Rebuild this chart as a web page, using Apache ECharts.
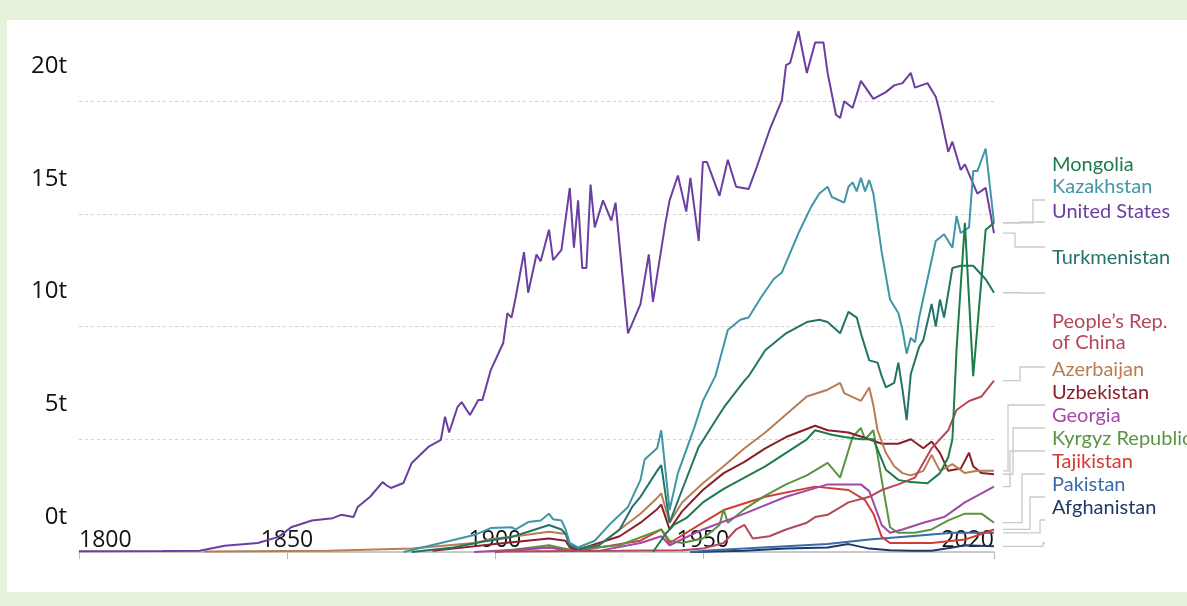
<!DOCTYPE html>
<html>
<head>
<meta charset="utf-8">
<title>Emissions per capita</title>
<script src="https://cdn.jsdelivr.net/npm/echarts@6/dist/echarts.min.js"></script>
<style>
  html, body { margin: 0; padding: 0; background: #e7f2dc; }
  #panel { position: absolute; left: 7px; top: 20px; width: 1180px; height: 572px; background: #fff; }
  #chart { position: absolute; left: 0; top: 0; width: 1187px; height: 606px; }
</style>
</head>
<body>
<div id="panel"></div>
<div id="chart"></div>
<script>
// values, [year, tonnes]
const tickYears = [1800, 1850, 1900, 1950, 2020];

const unitedStates = [[1800,0.03],[1820,0.04],[1829,0.06],[1835,0.28],[1843,0.4],[1848,0.67],[1851,1.1],[1856,1.4],[1861,1.5],[1863,1.65],[1866,1.55],[1867,2.0],[1870,2.45],[1873,3.1],[1874,2.95],[1875,2.84],[1878,3.06],[1880,3.95],[1884,4.66],[1887,4.97],[1888,6.0],[1889,5.3],[1891,6.43],[1892,6.65],[1894,6.08],[1896,6.74],[1897,6.74],[1899,8.07],[1902,9.27],[1903,10.6],[1904,10.4],[1905,11.3],[1907,13.3],[1908,11.5],[1910,13.2],[1911,12.9],[1913,14.3],[1914,12.95],[1916,13.4],[1918,16.15],[1919,13.5],[1920,15.6],[1921,12.6],[1922,12.6],[1923,16.3],[1924,14.4],[1926,15.6],[1928,14.7],[1929,15.5],[1932,9.7],[1935,11.0],[1937,13.2],[1938,11.1],[1941,14.6],[1942,15.6],[1944,16.7],[1946,15.1],[1947,16.6],[1949,13.8],[1950,17.3],[1951,17.3],[1952,16.8],[1954,15.8],[1956,17.4],[1958,16.2],[1961,16.1],[1963,17.1],[1966,18.7],[1969,20.05],[1970,21.6],[1971,21.7],[1973,23.1],[1975,21.25],[1977,22.6],[1979,22.6],[1980,21.25],[1982,19.4],[1983,19.25],[1984,20.0],[1986,19.7],[1988,20.9],[1991,20.1],[1994,20.4],[1996,20.7],[1998,20.8],[2000,21.25],[2001,20.6],[2004,20.8],[2006,20.2],[2007,19.5],[2009,17.75],[2010,18.2],[2012,16.95],[2013,17.2],[2016,15.9],[2018,16.15],[2020,14.15]];

const kazakhstan = [[1878,0],[1887,0.4],[1895,0.75],[1899,1.06],[1904,1.1],[1905,1.0],[1908,1.33],[1911,1.4],[1913,1.7],[1914,1.45],[1916,1.4],[1917,1.0],[1918,0.4],[1920,0.2],[1924,0.5],[1928,1.3],[1932,2.0],[1935,3.2],[1936,4.1],[1939,4.6],[1940,5.4],[1942,1.86],[1944,3.5],[1948,5.55],[1950,6.7],[1953,7.8],[1956,9.85],[1959,10.3],[1961,10.4],[1964,11.3],[1967,12.1],[1969,12.4],[1973,14.15],[1976,15.3],[1978,15.9],[1980,16.2],[1981,15.75],[1984,15.5],[1985,16.2],[1986,16.4],[1987,16.0],[1988,16.6],[1989,16.0],[1990,16.5],[1991,15.9],[1993,13.3],[1995,11.2],[1997,10.6],[1998,9.85],[1999,8.8],[2000,9.5],[2001,9.3],[2002,10.4],[2004,12.1],[2006,13.8],[2008,14.1],[2010,13.5],[2011,14.9],[2012,14.15],[2014,14.4],[2015,16.9],[2016,16.9],[2018,17.9],[2020,14.6]];

const turkmenistan = [[1880,0],[1890,0.2],[1897,0.45],[1904,0.67],[1908,0.9],[1913,1.2],[1916,1.0],[1917,0.8],[1918,0.3],[1920,0.15],[1925,0.3],[1930,1.0],[1933,2.0],[1935,2.45],[1939,3.6],[1940,3.85],[1942,1.3],[1945,2.75],[1949,4.66],[1955,6.4],[1960,7.6],[1961,7.8],[1965,8.95],[1970,9.7],[1975,10.2],[1978,10.3],[1980,10.2],[1983,9.7],[1985,10.65],[1987,10.4],[1988,9.7],[1990,8.5],[1992,8.4],[1993,7.8],[1994,7.3],[1996,7.5],[1997,8.4],[1998,7.2],[1999,5.85],[2000,7.9],[2002,9.1],[2003,9.4],[2005,11.0],[2006,10.0],[2007,11.2],[2008,10.4],[2010,12.6],[2012,12.7],[2015,12.7],[2018,12.1],[2020,11.5]];

const mongolia = [[1938,0],[1941,0.8],[1943,1.2],[1946,1.5],[1950,2.2],[1955,2.8],[1960,3.3],[1965,3.8],[1970,4.4],[1975,5.0],[1977,5.4],[1981,5.2],[1984,5.1],[1988,5.0],[1991,5.0],[1994,3.65],[1997,3.2],[2000,3.1],[2004,3.05],[2007,3.5],[2009,4.2],[2010,5.0],[2011,9.0],[2013,14.6],[2015,7.8],[2018,14.3],[2020,14.6]];

const china = [[1900,0.02],[1930,0.05],[1945,0.08],[1950,0.15],[1955,0.4],[1958,1.0],[1960,1.2],[1962,0.6],[1966,0.7],[1970,1.0],[1975,1.3],[1977,1.55],[1980,1.65],[1985,2.2],[1990,2.45],[1993,2.75],[1997,3.0],[2001,3.3],[2005,4.6],[2009,5.4],[2011,6.3],[2014,6.7],[2017,6.9],[2020,7.6]];

const azerbaijan = [[1830,0.02],[1860,0.05],[1880,0.15],[1895,0.4],[1900,0.6],[1905,0.7],[1913,0.9],[1917,0.8],[1918,0.3],[1920,0.15],[1925,0.3],[1930,1.0],[1935,1.7],[1939,2.4],[1940,2.6],[1942,1.3],[1945,2.2],[1950,3.05],[1955,3.8],[1960,4.6],[1965,5.3],[1970,6.1],[1975,6.9],[1980,7.2],[1983,7.5],[1984,7.05],[1988,6.7],[1990,7.3],[1991,6.5],[1992,5.4],[1994,4.4],[1996,3.8],[1998,3.5],[2000,3.4],[2003,3.6],[2005,4.3],[2007,3.6],[2010,3.9],[2013,3.5],[2016,3.6],[2020,3.6]];

const uzbekistan = [[1885,0.05],[1900,0.35],[1913,0.6],[1917,0.5],[1918,0.2],[1920,0.1],[1930,0.7],[1935,1.3],[1939,1.9],[1940,2.1],[1942,1.0],[1945,1.8],[1950,2.75],[1955,3.5],[1960,4.0],[1965,4.6],[1970,5.1],[1977,5.6],[1980,5.4],[1985,5.3],[1990,5.0],[1993,4.8],[1997,4.8],[2000,5.0],[2003,4.6],[2005,4.9],[2007,4.4],[2009,3.6],[2012,3.7],[2014,4.4],[2015,3.8],[2017,3.5],[2020,3.45]];

const georgia = [[1895,0],[1905,0.1],[1913,0.2],[1918,0.05],[1925,0.05],[1935,0.4],[1940,0.7],[1942,0.3],[1950,1.0],[1960,1.7],[1970,2.45],[1980,3.0],[1988,3.0],[1990,2.7],[1993,1.2],[1995,0.85],[1998,1.0],[2003,1.3],[2008,1.55],[2013,2.2],[2017,2.6],[2020,2.9]];

const kyrgyzRepublic = [[1900,0],[1913,0.3],[1918,0.1],[1930,0.3],[1940,1.0],[1942,0.5],[1945,0.4],[1950,0.6],[1954,1.2],[1955,1.9],[1956,1.3],[1960,1.9],[1965,2.5],[1970,3.0],[1975,3.4],[1980,3.95],[1983,3.3],[1986,5.1],[1988,5.5],[1989,5.0],[1991,5.4],[1993,3.2],[1995,1.1],[1997,0.85],[2001,0.85],[2005,1.0],[2009,1.4],[2013,1.7],[2017,1.7],[2020,1.3]];

const tajikistan = [[1900,0],[1913,0.2],[1920,0.05],[1935,0.5],[1940,1.0],[1942,0.4],[1950,1.3],[1955,1.86],[1965,2.45],[1977,2.9],[1985,2.75],[1989,2.3],[1991,1.7],[1993,0.67],[1995,0.4],[2005,0.4],[2013,0.55],[2017,0.8],[2020,1.0]];

const pakistan = [[1947,0],[1950,0.05],[1960,0.15],[1970,0.25],[1980,0.35],[1990,0.55],[2000,0.7],[2010,0.85],[2020,0.85]];

const afghanistan = [[1947,0],[1950,0.01],[1960,0.05],[1970,0.15],[1980,0.2],[1985,0.35],[1990,0.15],[1995,0.08],[2000,0.05],[2005,0.06],[2010,0.2],[2013,0.3],[2020,0.25]];

// label text, colour, label centre y, elbow x of the leader line
const countries = [
  { name: 'Mongolia', data: mongolia, color: '#1d7c49', labelY: 165, elbow: 1033 },
  { name: 'Kazakhstan', data: kazakhstan, color: '#3f96a6', labelY: 187, elbow: 1020 },
  { name: 'United States', data: unitedStates, color: '#6a3f9f', labelY: 212, elbow: 1015 },
  { name: 'Turkmenistan', data: turkmenistan, color: '#237468', labelY: 258, elbow: 1020 },
  { name: 'People’s Rep.\nof China', data: china, color: '#b5475a', labelY: 332, elbow: 1020 },
  { name: 'Azerbaijan', data: azerbaijan, color: '#b87d52', labelY: 370, elbow: 1008 },
  { name: 'Uzbekistan', data: uzbekistan, color: '#8a1f2a', labelY: 393, elbow: 1013 },
  { name: 'Georgia', data: georgia, color: '#a448a8', labelY: 416, elbow: 1010 },
  { name: 'Kyrgyz Republic', data: kyrgyzRepublic, color: '#5a9440', labelY: 439, elbow: 1022 },
  { name: 'Tajikistan', data: tajikistan, color: '#d23c32', labelY: 462, elbow: 1030 },
  { name: 'Pakistan', data: pakistan, color: '#3b6aa8', labelY: 485, elbow: 1040 },
  { name: 'Afghanistan', data: afghanistan, color: '#1e3a68', labelY: 508, elbow: 1043 }
];

const chart = echarts.init(document.getElementById('chart'));

const option = {
  animation: false,
  grid: { left: 79, right: 193, top: 11, bottom: 54, containLabel: false, outerBoundsMode: 'none' },
  xAxis: {
    type: 'value',
    min: 1800,
    max: 2020,
    axisLine: { show: true, lineStyle: { color: '#b8b8b8', width: 1.5 } },
    axisTick: { show: true, length: 7, customValues: tickYears, lineStyle: { color: '#b8b8b8' } },
    axisLabel: {
      inside: true,
      margin: 0,
      customValues: tickYears,
      alignMinLabel: 'left',
      alignMaxLabel: 'right',
      color: '#111',
      fontSize: 23,
      fontFamily: 'Open Sans',
      formatter: v => String(v)
    },
    splitLine: { show: false }
  },
  yAxis: {
    type: 'value',
    min: 0,
    max: 24,
    interval: 5,
    axisLine: { show: false },
    axisTick: { show: false },
    axisLabel: {
      formatter: v => (v % 5 === 0 ? v + 't' : ''),
      color: '#111',
      fontSize: 24,
      fontFamily: 'Open Sans',
      margin: 12,
      verticalAlign: 'bottom',
      lineHeight: 24,
      padding: [0, 0, 23, 0]
    },
    splitLine: {
      show: true,
      showMinLine: false,
      showMaxLine: false,
      lineStyle: { color: '#d2d2d2', type: [3, 3], width: 1.2 }
    }
  },
  series: countries.slice().reverse().map(c => ({
    name: c.name,
    type: 'line',
    data: c.data,
    showSymbol: false,
    symbol: 'none',
    silent: true,
    lineStyle: { color: c.color, width: 2 },
    itemStyle: { color: c.color }
  }))
};

chart.setOption(option);

// leader lines from each line end to its label, plus the labels
const graphics = [];
countries.forEach(c => {
  const last = c.data[c.data.length - 1];
  const p = chart.convertToPixel({ gridIndex: 0 }, last);
  const ty = c.labelY + 35;
  graphics.push({
    type: 'polyline',
    silent: true,
    shape: { points: [[p[0] + 9, p[1]], [c.elbow, p[1]], [c.elbow, ty], [1045, ty]] },
    style: { stroke: '#c9c9c9', lineWidth: 1.3, fill: null }
  });
  graphics.push({
    type: 'text',
    silent: true,
    x: 1052,
    y: c.labelY,
    style: {
      text: c.name,
      fill: c.color,
      font: '20px Lato',
      lineHeight: 21,
      textAlign: 'left',
      textVerticalAlign: 'middle',
      align: 'left',
      verticalAlign: 'middle'
    }
  });
});
chart.setOption({ graphic: graphics });
</script>
</body>
</html>
